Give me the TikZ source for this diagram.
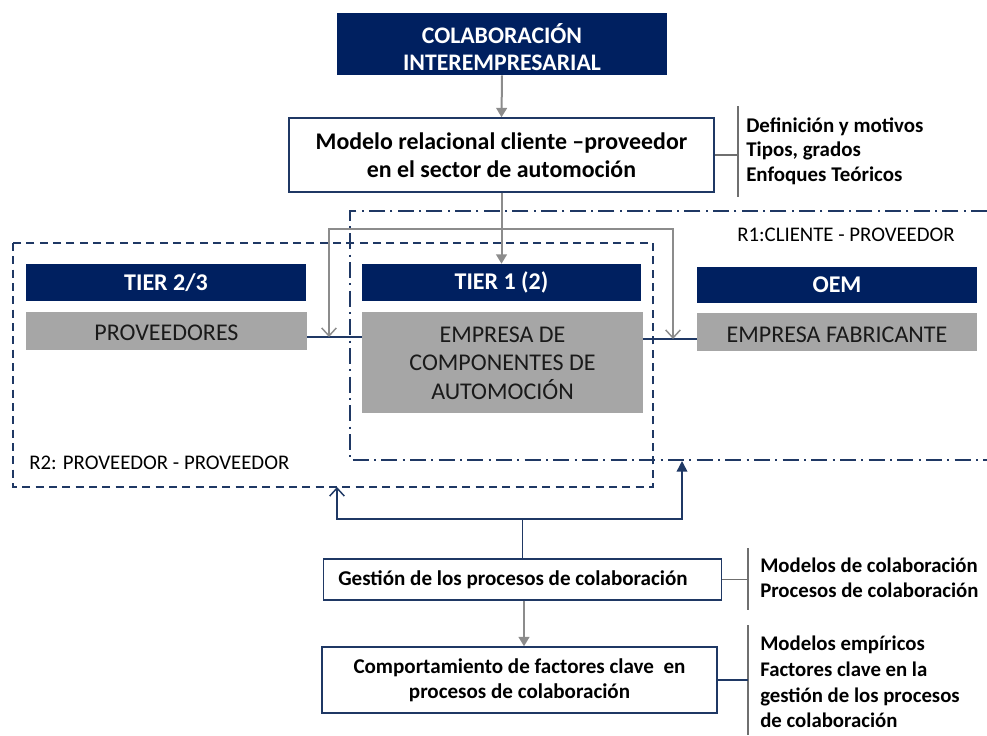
\documentclass[tikz,border=0pt]{standalone}
\usepackage{fontspec}
\setmainfont{Carlito}
\usetikzlibrary{arrows.meta}
\definecolor{navy}{HTML}{002060}
\definecolor{boxline}{HTML}{1F3864}
\definecolor{grayfill}{HTML}{A6A6A6}
\definecolor{arrowgray}{HTML}{8C8C8C}
\definecolor{rulegray}{HTML}{6F6F6F}
\definecolor{darktext}{HTML}{1A1A1A}
\begin{document}
\begin{tikzpicture}[x=0.75pt,y=-0.75pt,
  header/.style={fill=navy, text=white, inner sep=0pt, align=center,
    font=\bfseries\fontsize{18}{21}\selectfont},
  graybox/.style={fill=grayfill, inner sep=0pt},
  graytext/.style={text=darktext, inner sep=0pt, align=center,
    font=\fontsize{18}{21.4}\selectfont},
  whitebox/.style={draw=boxline, line width=1.1pt, fill=white, inner sep=0pt,
    align=center, text=black},
  note/.style={anchor=west, align=left, inner sep=0pt, text=black,
    font=\bfseries\fontsize{15.7}{18.4}\selectfont},
  region/.style={inner sep=0pt, text=black, font=\fontsize{15.6}{18}\selectfont},
  grayarrow/.style={draw=arrowgray, line width=1.5pt,
    -{Triangle[length=7pt,width=8pt]}},
  grayloop/.style={draw=arrowgray, line width=1.3pt,
    -{Straight Barb[length=6pt,width=11pt,line width=1.1pt]}},
  navyline/.style={draw=boxline, line width=1.2pt},
  rule/.style={draw=rulegray, line width=0.9pt},
  r2frame/.style={draw=boxline, line width=1.1pt, dash pattern=on 6pt off 4pt},
  r1frame/.style={draw=boxline, line width=1.1pt,
    dash pattern=on 12pt off 4pt on 1.5pt off 4pt}]
\useasboundingbox (0,0) rectangle (987,735);

% region frames
\draw[r2frame] (13,243) rectangle (653,487);
\draw[r1frame] (987,211) -- (350,211) -- (350,460) -- (987,460);
\node[region, anchor=west] (r1lab) at (737,235) {R1:CLIENTE - PROVEEDOR};
\node[region, anchor=west] (r2lab) at (29,463) {R2: PROVEEDOR - PROVEEDOR};

% top of the hierarchy
\node[header, minimum width=247.5pt, minimum height=46.5pt] (top) at (502,44) {};
\node[text=white, inner sep=0pt, align=center,
  font=\bfseries\fontsize{17.8}{20.4}\selectfont] (toptxt) at (502,47.5)
  {COLABORACIÓN\\INTEREMPRESARIAL};
\node[whitebox, minimum width=318.75pt, minimum height=55.5pt,
  font=\bfseries\fontsize{17.9}{21}\selectfont] (modelo) at (501.5,155)
  {Modelo relacional cliente –proveedor\\en el sector de automoción};

% tiers
\node[header, minimum width=210pt, minimum height=27.75pt] (tier23) at (166,282.5) {TIER 2/3};
\node[graybox, minimum width=210.75pt, minimum height=28.5pt] (prov) at (166.5,330.5) {};
\node[graytext] (provtxt) at (166.5,333) {PROVEEDORES};
\node[header, minimum width=209.25pt, minimum height=27.75pt] (tier1) at (501.5,282.5) {TIER 1 (2)};
\node[graybox, minimum width=210.75pt, minimum height=75.75pt] (emp) at (502.5,362) {};
\node[graytext] (emptxt) at (502.5,363) {EMPRESA DE\\COMPONENTES DE\\AUTOMOCIÓN};
\node[header, minimum width=210pt, minimum height=27pt] (oem) at (837,284.5) {OEM};
\node[graybox, minimum width=210pt, minimum height=28pt] (fab) at (837,332) {};
\node[graytext] (fabtxt) at (837,334.5) {EMPRESA FABRICANTE};

% process boxes
\node[whitebox, minimum width=298.5pt, minimum height=30.75pt] (gest) at (522.5,579.5) {};
\node[inner sep=0pt, font=\bfseries\fontsize{15.8}{18}\selectfont] (gesttxt) at (513,579.5)
  {Gestión de los procesos de colaboración};
\node[whitebox, minimum width=296.25pt, minimum height=49.5pt,
  font=\bfseries\fontsize{15.8}{18.8}\selectfont] (comp) at (519.5,680)
  {Comportamiento de factores clave\ \ en\\procesos de colaboración};

% side notes
\node[note] (n1) at (746,151) {Definición y motivos\\Tipos, grados\\Enfoques Teóricos};
\node[note, font=\bfseries\fontsize{15.6}{18.8}\selectfont] (n2) at (760,578)
  {Modelos de colaboración\\Procesos de colaboración};
\node[note, font=\bfseries\fontsize{15.6}{19.3}\selectfont] (n3) at (760,682)
  {Modelos empíricos\\Factores clave en la\\gestión de los procesos\\de colaboración};

% note brackets
\draw[rule] (738,106) -- (738,197);
\draw[rule] (modelo.east) -- (modelo.east -| 738,0);
\draw[rule] (748,548) -- (748,610);
\draw[rule] (gest.east) -- (gest.east -| 748,0);
\draw[rule] (748,625) -- (748,735);
\draw[navyline, line width=0.9pt] (comp.east) -- (comp.east -| 748,0);

% tier links
\coordinate (jl) at (329,337);
\coordinate (jr) at (673,339);
\draw[navyline] (prov.east |- jl) -- (emp.west |- jl);
\draw[navyline] (emp.east |- jr) -- (fab.west |- jr);

% main flow
\draw[grayarrow] (top.south) -- (modelo.north);
\draw[grayarrow] (modelo.south) -- (tier1.north);
\coordinate (split) at (501.5,229);
\draw[grayloop] (split) -| (jl);
\draw[grayloop] (split) -| (jr);
\draw[grayarrow] (gest.south -| 524,0) -- (comp.north -| 524,0);

% feedback to both relations
\coordinate (fork) at (522.5,519);
\coordinate (r2b) at (337,487);
\coordinate (r1b) at (682,461);
\draw[navyline] (gest.north) -- (fork);
\draw[navyline, -{Straight Barb[length=6pt,width=11pt,line width=1.1pt]}] (fork) -| (r2b);
\draw[navyline, -{Triangle[length=8pt,width=8pt]}] (fork) -| (r1b);
\end{tikzpicture}
\end{document}
